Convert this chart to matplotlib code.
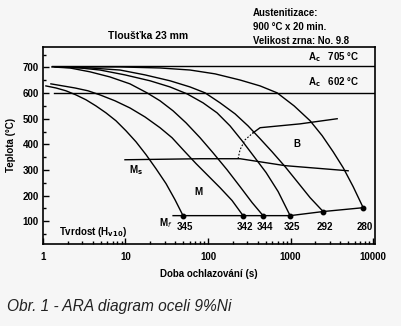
import numpy as np
import matplotlib
matplotlib.use("Agg")
import matplotlib.pyplot as plt
from matplotlib.ticker import LogLocator, NullFormatter, MultipleLocator

plt.rcParams['font.family'] = ['Liberation Sans', 'DejaVu Sans']

# cooling curves: time (s), temperature (C)
c1_t = [1.087, 1.438, 1.900, 2.512, 3.320, 4.389, 5.801, 7.672, 10.14, 13.41,
        17.72, 23.43, 30.97, 39.81, 49.77]
c1_T = [628, 620, 609, 593, 574, 550, 523, 492, 453, 410, 360, 305, 247, 184, 122]
c2_t = [1.250, 1.748, 2.443, 3.512, 4.909, 7.459, 11.34, 17.23, 26.19, 36.61,
        51.18, 71.53, 100, 139.8, 195.4, 265.6]
c2_T = [636, 628, 620, 609, 593, 570, 542, 507, 465, 426, 375, 325, 278, 231, 181, 122]
c3_t = [1.285, 2.125, 3.713, 6.488, 11.34, 18.22, 26.19, 37.65, 54.12, 79.98,
        115.0, 169.9, 244.3, 341.5, 464.2]
c3_T = [702, 698, 683, 663, 636, 601, 570, 531, 484, 426, 367, 301, 235, 173, 122]
c4_t = [1.398, 2.809, 4.909, 9.86, 19.82, 34.63, 55.67, 86.98, 128.6, 184.8,
        258.3, 361.2, 504.7, 705.7, 986]
c4_T = [702, 698, 690, 671, 648, 624, 597, 562, 523, 472, 414, 352, 290, 216, 122]
c5_t = [1.607, 3.713, 8.578, 17.23, 34.63, 60.51, 91.97, 139.8, 212.5, 305.3,
        426.9, 596.8, 857.7, 1199, 1723, 2477]
c5_T = [702, 698, 690, 671, 648, 624, 601, 562, 519, 472, 422, 371, 313, 255, 192, 138]
c6_t = [1.607, 8.578, 26.19, 60.51, 121.6, 244.3, 426.9, 686.3, 1103, 1723,
        2409, 3276, 4330, 5723, 7565]
c6_T = [702, 702, 698, 690, 675, 651, 628, 601, 550, 492, 434, 371, 309, 235, 153]
curves = [(c1_t, c1_T), (c2_t, c2_T), (c3_t, c3_T),
          (c4_t, c4_T), (c5_t, c5_T), (c6_t, c6_T)]

# transformation lines
ms_t = [9.86, 80, 244, 858, 4977]
ms_T = [340, 344, 344, 317, 297]
bs_t = [351, 427, 1303, 3663]
bs_T = [445, 465, 480, 500]
bs_dash_t = [231, 244, 281, 351]
bs_dash_T = [344, 379, 418, 445]
mf_t = [37.7, 49.8, 266, 464, 986, 2477, 7568]
mf_T = [122, 122, 122, 122, 122, 138, 153]

hardness = [345, 342, 344, 325, 292, 280]
ac1 = 705
ac3 = 602

fig = plt.figure(figsize=(4.01, 3.26), dpi=100, facecolor='#f6f6f6')
ax = fig.add_axes([0.107, 0.252, 0.828, 0.604])
ax.set_facecolor('#f6f6f6')

ax.set_xscale('log')
ax.set_xlim(1, 10500)
ax.set_ylim(12, 780)

lw = 1.0
ax.plot([1.3, 10500], [ac1, ac1], color='k', lw=lw)
ax.plot([1.35, 10500], [ac3, ac3], color='k', lw=lw)

for t, T in curves:
    ax.plot(t, T, color='k', lw=lw, solid_joinstyle='round')
    ax.plot(t[-1], T[-1], 'o', color='k', ms=3.2)

ax.plot(ms_t, ms_T, color='k', lw=lw)
ax.plot(bs_t, bs_T, color='k', lw=lw)
ax.plot(bs_dash_t, bs_dash_T, color='k', lw=0.8, ls=(0, (1.5, 1.5)))
ax.plot(mf_t, mf_T, color='k', lw=lw)

for (t, T), h in zip(curves, hardness):
    ax.text(t[-1] * 1.05, 79, str(h), fontsize=7, fontweight='bold',
            ha='center', va='center')

ax.text(13.4, 301, 'M$_\\mathbf{s}$', fontsize=7, fontweight='bold', ha='center', va='center')
ax.text(31, 91, 'M$_\\mathit{f}$', fontsize=7, fontweight='bold', ha='center', va='center')
ax.text(75.6, 215, 'M', fontsize=7, fontweight='bold', ha='center', va='center')
ax.text(1199, 402, 'B', fontsize=7, fontweight='bold', ha='center', va='center')
ax.text(4.04, 60, 'Tvrdost (H$_\\mathbf{v10}$)', fontsize=7, fontweight='bold',
        ha='center', va='center')
ax.text(0.953, 0.949, 'A$_\\mathbf{c}$   %d °C' % ac1, transform=ax.transAxes,
        fontsize=7, fontweight='bold', ha='right', va='center')
ax.text(0.953, 0.822, 'A$_\\mathbf{c}$   %d °C' % ac3, transform=ax.transAxes,
        fontsize=7, fontweight='bold', ha='right', va='center')

ax.yaxis.set_minor_locator(MultipleLocator(50))
ax.set_yticks([100, 200, 300, 400, 500, 600, 700])
ax.xaxis.set_minor_locator(LogLocator(base=10, subs=np.arange(2, 10)))
ax.xaxis.set_minor_formatter(NullFormatter())
ax.set_xticks([1, 10, 100, 1000, 10000])
ax.set_xticklabels(['1', '10', '100', '1000', '10000'])
ax.tick_params(which='both', direction='in', labelsize=7, width=1)
ax.tick_params(axis='x', pad=6)
ax.tick_params(axis='y', pad=3)
ax.tick_params(which='major', length=4)
ax.tick_params(which='minor', length=2.5)
for lab in ax.get_xticklabels() + ax.get_yticklabels():
    lab.set_fontweight('bold')
for s in ax.spines.values():
    s.set_linewidth(1.2)

ax.set_xlabel('Doba ochlazování (s)', fontsize=7, fontweight='bold', labelpad=5)
ax.set_ylabel('Teplota (°C)', fontsize=7, fontweight='bold', labelpad=5)

fig.text(148 / 401, 1 - 36 / 326, 'Tloušťka 23 mm', fontsize=7.5, fontweight='bold',
         ha='center', va='center')
fig.text(253 / 401, 1 - 27 / 326, 'Austenitizace:\n900 °C x 20 min.\nVelikost zrna: No. 9.8',
         fontsize=6.9, fontweight='bold', ha='left', va='center', linespacing=1.45)
fig.text(7 / 401, 1 - 307 / 326, 'Obr. 1 - ARA diagram oceli 9%Ni', fontsize=11.2,
         style='italic', ha='left', va='center', color='#222222')

fig.savefig('out.png', dpi=100, facecolor=fig.get_facecolor())
